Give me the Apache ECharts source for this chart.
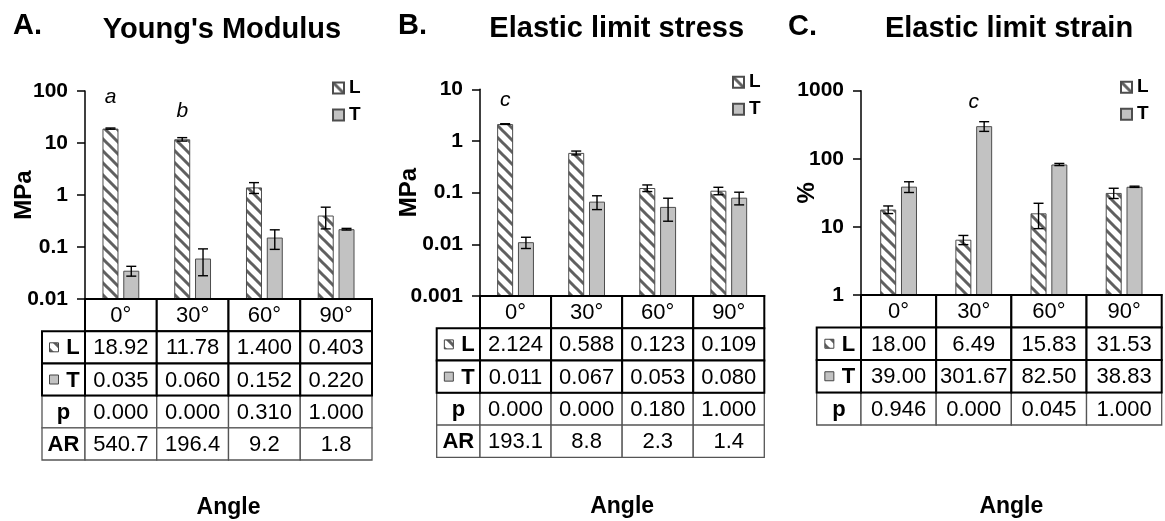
<!DOCTYPE html>
<html><head><meta charset="utf-8">
<script src="https://cdn.jsdelivr.net/npm/echarts@6/dist/echarts.min.js"></script>
<style>html,body{margin:0;padding:0;background:#fff}#c{width:1165px;height:521px}</style>
</head><body><div id="c"></div>
<script>
// ---------- data ----------
const angles = ['0°', '30°', '60°', '90°'];
// A. Young's Modulus (MPa)
const youngL = [18.92, 11.78, 1.400, 0.403];
const youngT = [0.035, 0.060, 0.152, 0.220];
const youngLErr = [0.5, 0.9, 0.33, 0.18];
const youngTErr = [0.0075, 0.032, 0.062, 0.008];
const youngP = [0.000, 0.000, 0.310, 1.000];
const youngAR = [540.7, 196.4, 9.2, 1.8];
const youngMarksL = ['a', 'b', '', ''];
const youngMarksT = ['', '', '', ''];
// B. Elastic limit stress (MPa)
const stressL = [2.124, 0.588, 0.123, 0.109];
const stressT = [0.011, 0.067, 0.053, 0.080];
const stressLErr = [0.03, 0.05, 0.018, 0.018];
const stressTErr = [0.0027, 0.02, 0.025, 0.022];
const stressP = [0.000, 0.000, 0.180, 1.000];
const stressAR = [193.1, 8.8, 2.3, 1.4];
const stressMarksL = ['c', '', '', ''];
const stressMarksT = ['', '', '', ''];
// C. Elastic limit strain (%)
const strainL = [18.00, 6.49, 15.83, 31.53];
const strainT = [39.00, 301.67, 82.50, 38.83];
const strainLErr = [2.3, 1.0, 6.4, 5.4];
const strainTErr = [7, 49, 3, 0.8];
const strainP = [0.946, 0.000, 0.045, 1.000];
const strainMarksL = ['', '', '', ''];
const strainMarksT = ['', 'c', '', ''];
// axis ranges
const youngRange = [0.01, 100];
const stressRange = [0.001, 10];
const strainRange = [1, 1000];

// ---------- styling helpers ----------
const FONT = '"Liberation Sans", Arial, Helvetica, sans-serif';
const BAR_W = 16, BAR_GAP = 0.3, BAR_OFF = (BAR_W + BAR_W * BAR_GAP) / 2, CAP = 5;

function makeHatch() {
  const s = 12, cv = document.createElement('canvas');
  cv.width = s; cv.height = s;
  const g = cv.getContext('2d');
  g.fillStyle = '#ffffff'; g.fillRect(0, 0, s, s);
  g.strokeStyle = '#606060'; g.lineWidth = 3;
  g.beginPath();
  g.moveTo(-s, -s); g.lineTo(2 * s, 2 * s);
  g.moveTo(-2 * s, -s); g.lineTo(s, 2 * s);
  g.moveTo(0, -s); g.lineTo(3 * s, 2 * s);
  g.stroke();
  return { image: cv, repeat: 'repeat' };
}
const hatch = makeHatch();
const GREY = '#c2c2c2';

const fmtAB = v => (v >= 10 ? v.toFixed(2) : v.toFixed(3));
const fmt3 = v => v.toFixed(3);
const fmt2 = v => v.toFixed(2);
const fmt1 = v => v.toFixed(1);

const panels = [
  {
    letter: 'A.', title: "Young's Modulus", yName: 'MPa', range: youngRange,
    L: youngL, T: youngT, LErr: youngLErr, TErr: youngTErr, marksL: youngMarksL, marksT: youngMarksT,
    rows: [
      { label: 'L', icon: 'L', vals: youngL.map(fmtAB), strong: true },
      { label: 'T', icon: 'T', vals: youngT.map(fmt3), strong: true },
      { label: 'p', vals: youngP.map(fmt3), strong: false },
      { label: 'AR', vals: youngAR.map(fmt1), strong: false }
    ],
    lay: { grid: { left: 85, top: 91, width: 287, height: 208 }, table: { top: 299, height: 161, labelW: 43 },
      nameGap: 49, angleGap: 36, legend: { left: 332, top: 78.5 }, letterX: 13, letterCy: 25.5, titleCx: 222, titleCy: 30,
      markDistL: [21, 18, 0, 0], markDistT: [0, 0, 0, 0], markDxT: 0 }
  },
  {
    letter: 'B.', title: 'Elastic limit stress', yName: 'MPa', range: stressRange,
    L: stressL, T: stressT, LErr: stressLErr, TErr: stressTErr, marksL: stressMarksL, marksT: stressMarksT,
    rows: [
      { label: 'L', icon: 'L', vals: stressL.map(fmtAB), strong: true },
      { label: 'T', icon: 'T', vals: stressT.map(fmt3), strong: true },
      { label: 'p', vals: stressP.map(fmt3), strong: false },
      { label: 'AR', vals: stressAR.map(fmt1), strong: false }
    ],
    lay: { grid: { left: 480, top: 89.3, width: 284.3, height: 206.7 }, table: { top: 296, height: 161.3, labelW: 43.3 },
      nameGap: 59, angleGap: 38, legend: { left: 732, top: 72.7 }, letterX: 398, letterCy: 26, titleCx: 616.7, titleCy: 29,
      markDistL: [13, 0, 0, 0], markDistT: [0, 0, 0, 0], markDxT: 0 }
  },
  {
    letter: 'C.', title: 'Elastic limit strain', yName: '%', range: strainRange,
    L: strainL, T: strainT, LErr: strainLErr, TErr: strainTErr, marksL: strainMarksL, marksT: strainMarksT,
    rows: [
      { label: 'L', icon: 'L', vals: strainL.map(fmt2), strong: true },
      { label: 'T', icon: 'T', vals: strainT.map(fmt2), strong: true },
      { label: 'p', vals: strainP.map(fmt3), strong: false }
    ],
    lay: { grid: { left: 861, top: 90.7, width: 300.7, height: 204.3 }, table: { top: 295, height: 130, labelW: 44.3 },
      nameGap: 42, angleGap: 70.5, legend: { left: 1120, top: 77.7 }, letterX: 788, letterCy: 26.5, titleCx: 1009, titleCy: 29,
      markDistL: [0, 0, 0, 0], markDistT: [0, 13, 0, 0], markDxT: -BAR_OFF }
  }
];

function errRender(params, api) {
  const k = api.value(0), v = api.value(1), e = api.value(2), side = api.value(3);
  const hi = api.coord([k, v + e]);
  const lo = api.coord([k, Math.max(v - e, v * 0.02)]);
  const x = hi[0] + side * BAR_OFF;
  const st = { stroke: '#000', lineWidth: 1.4 };
  return {
    type: 'group', children: [
      { type: 'line', shape: { x1: x, y1: hi[1], x2: x, y2: lo[1] }, style: st },
      { type: 'line', shape: { x1: x - CAP, y1: hi[1], x2: x + CAP, y2: hi[1] }, style: st },
      { type: 'line', shape: { x1: x - CAP, y1: lo[1], x2: x + CAP, y2: lo[1] }, style: st }
    ]
  };
}

function buildCells(panel) {
  const cells = [];
  const order = [];
  panel.rows.forEach((r, i) => { if (!r.strong) order.push(i); });
  order.push(-1);
  panel.rows.forEach((r, i) => { if (r.strong) order.push(i); });
  order.forEach(ri => {
    if (ri === -1) {
      angles.forEach((a, c) => cells.push({ col: c, row: 0, text: a, bold: false, strong: true }));
    } else {
      const r = panel.rows[ri];
      cells.push({ col: 0, row: ri + 1, isLabel: true, text: r.label, icon: r.icon, bold: true, strong: r.strong });
      r.vals.forEach((t, c) => cells.push({ col: c, row: ri + 1, text: t, bold: false, strong: r.strong }));
    }
  });
  return cells;
}

function makeTableRender(cells, labelW) {
  return function (params, api) {
    const c = cells[params.dataIndex];
    const sz = api.size([1, 1]);
    const cw = sz[0], rh = sz[1];
    const p = api.coord([c.col, c.row]);
    let x0, w;
    if (c.isLabel) { x0 = p[0] - cw / 2 - labelW; w = labelW; } else { x0 = p[0] - cw / 2; w = cw; }
    const y0 = p[1] - rh / 2, cy = p[1];
    const children = [{
      type: 'rect', shape: { x: x0, y: y0, width: w, height: rh },
      style: { fill: '#fff', stroke: c.strong ? '#000' : '#555', lineWidth: c.strong ? 2 : 1.3 }
    }];
    const tf = (c.bold ? 'bold ' : '') + '22px ' + FONT;
    if (c.icon) {
      const ix = x0 + w / 2 - 9.5;
      children.push({
        type: 'rect', shape: { x: ix - 4.5, y: cy - 4.5, width: 9, height: 9 },
        style: { fill: c.icon === 'L' ? hatch : GREY, stroke: '#444', lineWidth: 1 }
      });
      children.push({ type: 'text', style: { text: c.text, x: x0 + w / 2 + 9.5, y: cy + 1, align: 'center', verticalAlign: 'middle', font: tf, fill: '#000' } });
    } else {
      children.push({ type: 'text', style: { text: c.text, x: x0 + w / 2, y: cy + 1, align: 'center', verticalAlign: 'middle', font: tf, fill: '#000' } });
    }
    return { type: 'group', children };
  };
}

const option = {
  backgroundColor: '#fff',
  animation: false,
  title: [], legend: [], grid: [], xAxis: [], yAxis: [], series: []
};

panels.forEach((P, i) => {
  const L = P.lay;
  const gi = 2 * i, ti = 2 * i + 1;
  option.title.push({ text: P.title, left: L.titleCx, top: L.titleCy - 14.5, textAlign: 'center', padding: 0,
    textStyle: { fontFamily: FONT, fontWeight: 'bold', fontSize: 29, color: '#000' } });
  option.title.push({ text: P.letter, left: L.letterX, top: L.letterCy - 14.5, padding: 0,
    textStyle: { fontFamily: FONT, fontWeight: 'bold', fontSize: 29, color: '#000' } });
  option.legend.push({ data: ['L', 'T'], orient: 'vertical', left: L.legend.left, top: L.legend.top, padding: 0,
    itemWidth: 11, itemHeight: 11, itemGap: 8, icon: 'rect', selectedMode: false,
    textStyle: { fontFamily: FONT, fontWeight: 'bold', fontSize: 19, color: '#000' } });
  option.grid.push(Object.assign({ containLabel: false, outerBoundsMode: 'none' }, L.grid));
  option.grid.push({ left: L.grid.left, width: L.grid.width, top: L.table.top, height: L.table.height, containLabel: false, outerBoundsMode: 'none' });
  option.xAxis.push({ type: 'category', gridIndex: gi, data: angles,
    axisLine: { show: true, lineStyle: { color: '#000', width: 2 } }, axisTick: { show: false }, axisLabel: { show: false }, splitLine: { show: false } });
  option.xAxis.push({ type: 'category', gridIndex: ti, data: angles, position: 'bottom',
    axisLine: { show: false }, axisTick: { show: false }, axisLabel: { show: false }, splitLine: { show: false },
    name: 'Angle', nameLocation: 'middle', nameGap: L.angleGap, nameMoveOverlap: false,
    nameTextStyle: { fontFamily: FONT, fontWeight: 'bold', fontSize: 23, color: '#000' } });
  option.yAxis.push({ type: 'log', logBase: 10, gridIndex: gi, min: P.range[0], max: P.range[1], startValue: P.range[0],
    axisLine: { show: true, lineStyle: { color: '#000', width: 1.5 } },
    axisTick: { show: true, length: 8, inside: false, lineStyle: { color: '#000', width: 1.5 } },
    splitLine: { show: false }, minorTick: { show: false },
    axisLabel: { margin: 17, fontFamily: FONT, fontWeight: 'bold', fontSize: 21, color: '#000',
      formatter: v => String(Number(Number(v).toPrecision(6))) },
    name: P.yName, nameLocation: 'middle', nameRotate: 90, nameGap: L.nameGap, nameMoveOverlap: false,
    nameTextStyle: { fontFamily: FONT, fontWeight: 'bold', fontSize: 24, color: '#000' } });
  const rowKeys = ['hdr'].concat(P.rows.map(r => r.label));
  option.yAxis.push({ type: 'category', gridIndex: ti, data: rowKeys, inverse: true, show: false });

  const markLabel = (txt, dist, dx) => txt ? { show: true, formatter: txt, position: 'top', distance: dist, offset: [dx, 0],
    fontFamily: FONT, fontStyle: 'italic', fontSize: 21, color: '#000' } : undefined;

  option.series.push({ type: 'bar', name: 'L', xAxisIndex: gi, yAxisIndex: gi, barWidth: BAR_W, barGap: (BAR_GAP * 100) + '%',
    itemStyle: { color: hatch, borderColor: '#4d4d4d', borderWidth: 1 },
    data: P.L.map((v, k) => ({ value: v, label: markLabel(P.marksL[k], L.markDistL[k], 0) })),
    z: 2 });
  option.series.push({ type: 'bar', name: 'T', xAxisIndex: gi, yAxisIndex: gi, barWidth: BAR_W, barGap: (BAR_GAP * 100) + '%',
    itemStyle: { color: GREY, borderColor: '#4d4d4d', borderWidth: 1 },
    data: P.T.map((v, k) => ({ value: v, label: markLabel(P.marksT[k], L.markDistT[k], L.markDxT) })),
    z: 2 });
  option.series.push({ type: 'custom', name: 'err' + i, xAxisIndex: gi, yAxisIndex: gi, z: 3, silent: true,
    renderItem: errRender,
    data: P.L.map((v, k) => [k, v, P.LErr[k], -1]).concat(P.T.map((v, k) => [k, v, P.TErr[k], 1])) });
  const cells = buildCells(P);
  option.series.push({ type: 'custom', name: 'table' + i, xAxisIndex: ti, yAxisIndex: ti, z: 4, silent: true,
    renderItem: makeTableRender(cells, L.table.labelW),
    data: cells.map(c => [c.col, c.row]) });
});

const chart = echarts.init(document.getElementById('c'), null, { renderer: 'canvas' });
chart.setOption(option);
</script></body></html>
